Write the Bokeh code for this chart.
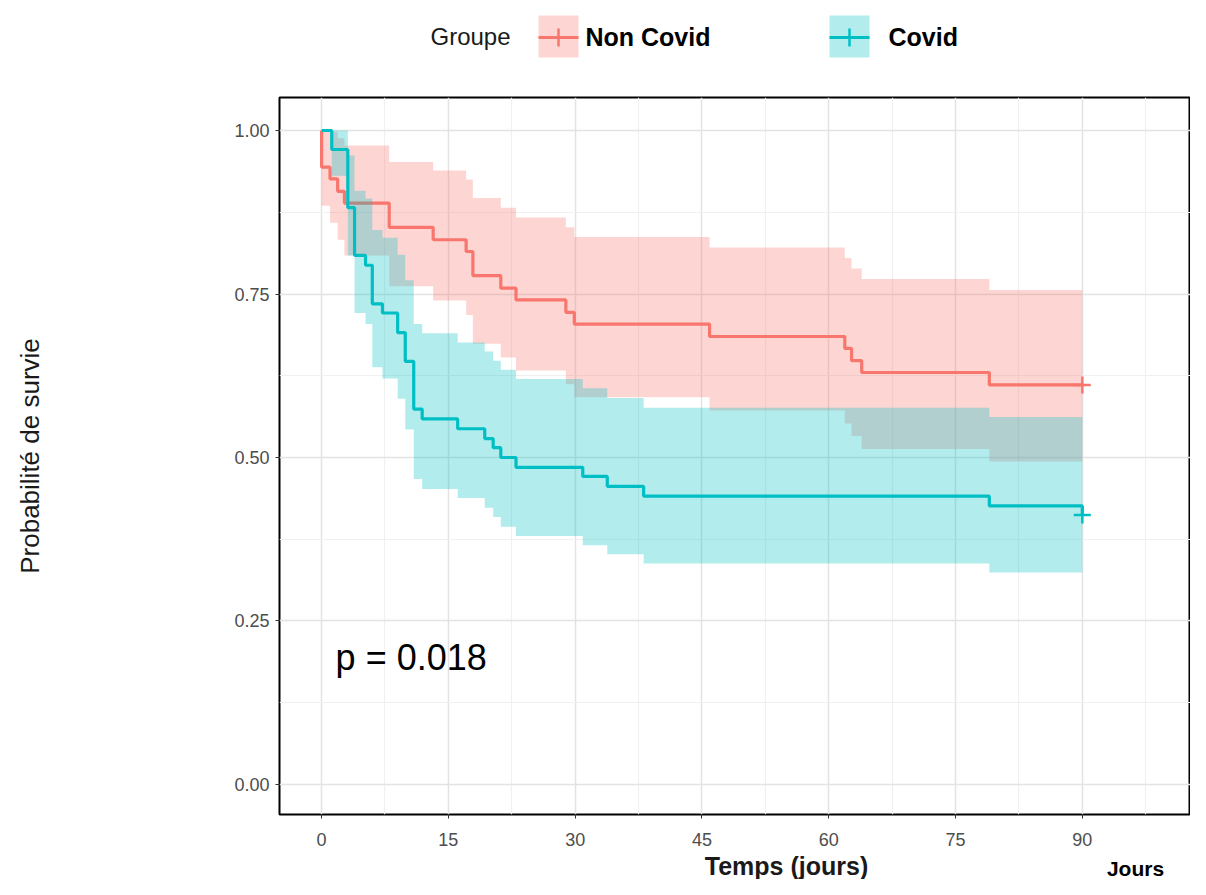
from bokeh.plotting import figure
from bokeh.models import Range1d, FixedTicker, PrintfTickFormatter, Label
from bokeh.layouts import column
from bokeh.embed import file_html
from bokeh.resources import INLINE
from bokeh.core.properties import value

# ---------------- data ----------------
group_names = ["Non Covid", "Covid"]
legend_title = "Groupe"

nc_time  = [0.0, 0.0, 1.0, 1.9, 2.7, 8.0, 13.2, 17.1, 17.9, 21.2, 23.0, 28.9, 29.9, 45.9, 61.9, 62.7, 63.9, 79.0, 90.0]
nc_surv  = [1.0, 0.944, 0.926, 0.907, 0.889, 0.852, 0.833, 0.815, 0.778, 0.759, 0.741, 0.722, 0.704, 0.685, 0.667, 0.648, 0.630, 0.611, 0.611]
nc_lower = [1.0, 0.885, 0.859, 0.833, 0.809, 0.762, 0.740, 0.718, 0.674, 0.653, 0.633, 0.612, 0.592, 0.572, 0.552, 0.533, 0.513, 0.494, 0.494]
nc_upper = [1.0, 1.0, 0.998, 0.988, 0.977, 0.952, 0.939, 0.925, 0.897, 0.882, 0.867, 0.852, 0.837, 0.821, 0.805, 0.789, 0.773, 0.756, 0.756]

c_time  = [0.0, 1.2, 3.1, 3.9, 5.2, 6.0, 7.2, 9.0, 9.9, 10.9, 11.9, 16.1, 19.3, 20.3, 21.2, 23.0, 30.9, 33.8, 38.1, 79.0, 90.0]
c_surv  = [1.0, 0.971, 0.882, 0.809, 0.794, 0.735, 0.721, 0.691, 0.647, 0.574, 0.559, 0.544, 0.529, 0.515, 0.500, 0.485, 0.471, 0.456, 0.441, 0.426, 0.412]
c_lower = [1.0, 0.931, 0.809, 0.721, 0.704, 0.638, 0.621, 0.590, 0.543, 0.467, 0.452, 0.438, 0.423, 0.409, 0.394, 0.380, 0.366, 0.352, 0.338, 0.324, 0.324]
c_upper = [1.0, 1.0, 0.962, 0.908, 0.896, 0.848, 0.836, 0.810, 0.771, 0.704, 0.690, 0.676, 0.662, 0.648, 0.634, 0.620, 0.606, 0.591, 0.576, 0.562, 0.562]

censor_time = [90.0, 90.0]
censor_surv = [0.611, 0.412]

x_ticks = [0, 15, 30, 45, 60, 75, 90]
x_minor = [7.5, 22.5, 37.5, 52.5, 67.5, 82.5, 97.5]
y_ticks = [0.0, 0.25, 0.50, 0.75, 1.00]
y_minor = [0.125, 0.375, 0.625, 0.875]

p_value_text = "p = 0.018"
x_title = "Temps (jours)"
y_title = "Probabilité de survie"
unit_text = "Jours"

RED = "#F8766D"
TEAL = "#00BFC4"
FONT = "Liberation Sans"

W = 1190
FRAME_LEFT = 279

# ---------------- legend strip (top) ----------------
lg = figure(width=W, height=60, x_range=Range1d(FRAME_LEFT, W), y_range=Range1d(60, 0),
            output_backend="svg", toolbar_location=None, min_border=0,
            min_border_left=FRAME_LEFT, x_axis_location=None, y_axis_location=None)
lg.grid.visible = False
lg.outline_line_color = None
lg.text(x=[430], y=[36], text=[legend_title], text_font=value(FONT), text_font_size="24px",
        text_baseline="middle", text_color="#1A1A1A")
for cx, col, name, tx in [(558, RED, group_names[0], 585), (849, TEAL, group_names[1], 888)]:
    lg.quad(left=[cx - 20], right=[cx + 20], top=[15], bottom=[57], fill_color=col, fill_alpha=0.3, line_color=None)
    lg.segment(x0=[cx - 20], x1=[cx + 20], y0=[37], y1=[37], line_color=col, line_width=3)
    lg.scatter(x=[cx], y=[37], marker="cross", size=18, line_color=col, line_width=2.5)
    lg.text(x=[tx], y=[36], text=[name], text_font=value(FONT), text_font_size="25px",
            text_font_style="bold", text_baseline="middle", text_color="#000000")

# ---------------- main plot ----------------
p = figure(width=W, height=792, x_range=Range1d(-4.98, 102.8), y_range=Range1d(-0.0459, 1.0505),
           output_backend="svg", toolbar_location=None,
           min_border_left=FRAME_LEFT, min_border_right=0, min_border_top=37, min_border_bottom=38)
p.outline_line_color = "black"
p.outline_line_width = 2
p.background_fill_color = "white"

p.xaxis.ticker = FixedTicker(ticks=x_ticks, minor_ticks=x_minor)
p.yaxis.ticker = FixedTicker(ticks=y_ticks, minor_ticks=y_minor)
p.yaxis.formatter = PrintfTickFormatter(format="%.2f")
for ax in (p.xaxis, p.yaxis):
    ax.axis_line_color = None
    ax.major_tick_line_color = "#333333"
    ax.major_tick_out = 4
    ax.major_tick_in = 0
    ax.minor_tick_line_color = None
    ax.major_label_text_font = FONT
    ax.major_label_text_font_size = "18px"
    ax.major_label_text_color = "#4D4D4D"
p.xaxis.major_label_standoff = 14
p.yaxis.major_label_standoff = 6

p.yaxis.axis_label = y_title
p.yaxis.axis_label_text_font = FONT
p.yaxis.axis_label_text_font_size = "26px"
p.yaxis.axis_label_text_font_style = "normal"
p.yaxis.axis_label_text_color = "#1A1A1A"
p.yaxis.axis_label_standoff = 186

for g in (p.xgrid, p.ygrid):
    g.grid_line_color = "#E3E3E3"
    g.grid_line_width = 1.5
    g.minor_grid_line_color = "#F0F0F0"
    g.minor_grid_line_width = 1.2

# confidence bands and curves
p.varea_step(x=nc_time, y1=nc_lower, y2=nc_upper, step_mode="after", fill_color=RED, fill_alpha=0.3)
p.step(x=nc_time, y=nc_surv, mode="after", line_color=RED, line_width=3.2)
p.varea_step(x=c_time, y1=c_lower, y2=c_upper, step_mode="after", fill_color=TEAL, fill_alpha=0.3)
p.step(x=c_time, y=c_surv, mode="after", line_color=TEAL, line_width=3.2)
p.scatter(x=censor_time, y=censor_surv, marker="cross", size=17, line_width=2.5,
          line_color=[RED, TEAL])

p.add_layout(Label(x=1.66, y=0.194, text=p_value_text, text_font=FONT, text_font_size="36px",
                   text_baseline="middle", text_align="left", text_color="#000000"))

# ---------------- bottom strip (axis title and unit) ----------------
bt = figure(width=W, height=27, x_range=Range1d(FRAME_LEFT, W), y_range=Range1d(879, 852),
            output_backend="svg", toolbar_location=None, min_border=0,
            min_border_left=FRAME_LEFT, x_axis_location=None, y_axis_location=None)
bt.grid.visible = False
bt.outline_line_color = None
bt.text(x=[786], y=[865], text=[x_title], text_font=value(FONT), text_font_size="25px",
        text_font_style="bold", text_baseline="middle", text_align="center", text_color="#1A1A1A")
bt.text(x=[1135], y=[868], text=[unit_text], text_font=value(FONT), text_font_size="21px",
        text_font_style="bold", text_baseline="middle", text_align="center", text_color="#000000")

layout = column(lg, p, bt, spacing=0)
open("out.html", "w").write(file_html(layout, INLINE))
